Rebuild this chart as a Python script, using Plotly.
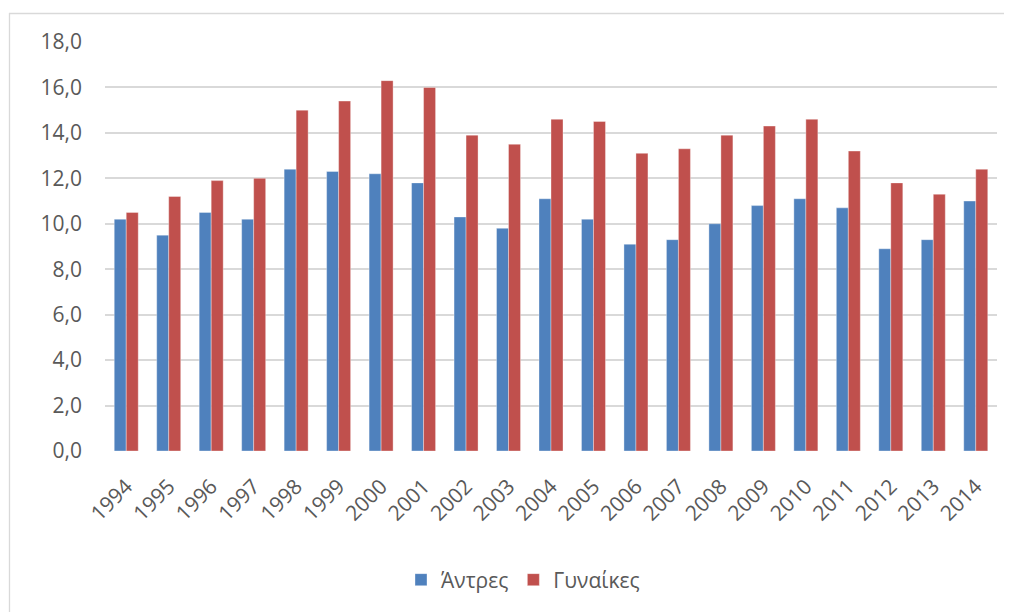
import plotly.graph_objects as go

years = [str(y) for y in range(1994, 2015)]
men = [10.2, 9.5, 10.5, 10.2, 12.4, 12.3, 12.2, 11.8, 10.3, 9.8, 11.1,
       10.2, 9.1, 9.3, 10.0, 10.8, 11.1, 10.7, 8.9, 9.3, 11.0]
women = [10.5, 11.2, 11.9, 12.0, 15.0, 15.4, 16.3, 16.0, 13.9, 13.5, 14.6,
         14.5, 13.1, 13.3, 13.9, 14.3, 14.6, 13.2, 11.8, 11.3, 12.4]
names = ["Άντρες", "Γυναίκες"]
y_ticks = [0, 2, 4, 6, 8, 10, 12, 14, 16, 18]

# page body has an 8px margin, so figure coordinates = reference - 8
OFF = 8
W, H = 1004, 604
L, T = 105 - OFF, 42 - OFF
R = W - (997 - OFF)
B = H - (451 - OFF)
pw = W - L - R
ph = H - T - B

def px_x(x):
    return (x - OFF - L) / pw

def px_y(y):
    return (H - B - (y - OFF)) / ph

font_fam = "Open Sans, Noto Sans, sans-serif"
txt_col = "#595959"
fs = 21

fig = go.Figure()
fig.add_trace(go.Bar(x=years, y=men, name=names[0],
                     marker=dict(color="#4F81BD", line=dict(color="rgba(255,255,255,0.35)", width=1))))
fig.add_trace(go.Bar(x=years, y=women, name=names[1],
                     marker=dict(color="#C0504D", line=dict(color="rgba(255,255,255,0.35)", width=1))))

fig.update_layout(
    width=W, height=H,
    margin=dict(l=L, r=R, t=T, b=B, autoexpand=False),
    paper_bgcolor="white", plot_bgcolor="white",
    barmode="group", bargap=0.435, bargroupgap=0,
    font=dict(family=font_fam, size=fs, color=txt_col),
    showlegend=True,
    legend=dict(orientation="h", x=px_x(523), xanchor="center",
                y=px_y(580), yanchor="middle",
                font=dict(family=font_fam, size=fs, color=txt_col),
                itemwidth=30, tracegroupgap=0),
    xaxis=dict(type="category", tickangle=-45, showgrid=False, showline=False,
               ticks="", tickfont=dict(size=fs, color=txt_col), zeroline=False,
               ticklabelstandoff=18),
    yaxis=dict(range=[0, 18], tickvals=y_ticks,
               ticktext=[f"{v:.1f}".replace(".", ",") for v in y_ticks],
               showgrid=True, gridcolor="#D9D9D9", gridwidth=1.5,
               zeroline=False, showline=False, ticks="",
               ticklabelstandoff=22,
               tickfont=dict(size=fs, color=txt_col)),
    shapes=[
        dict(type="line", xref="paper", yref="paper",
             x0=px_x(9), x1=px_x(1020), y0=px_y(13.5), y1=px_y(13.5),
             line=dict(color="#D9D9D9", width=1.3)),
        dict(type="line", xref="paper", yref="paper",
             x0=px_x(9.5), x1=px_x(9.5), y0=px_y(13), y1=px_y(620),
             line=dict(color="#D9D9D9", width=1.3)),
    ],
)

fig.write_html("out.html")
